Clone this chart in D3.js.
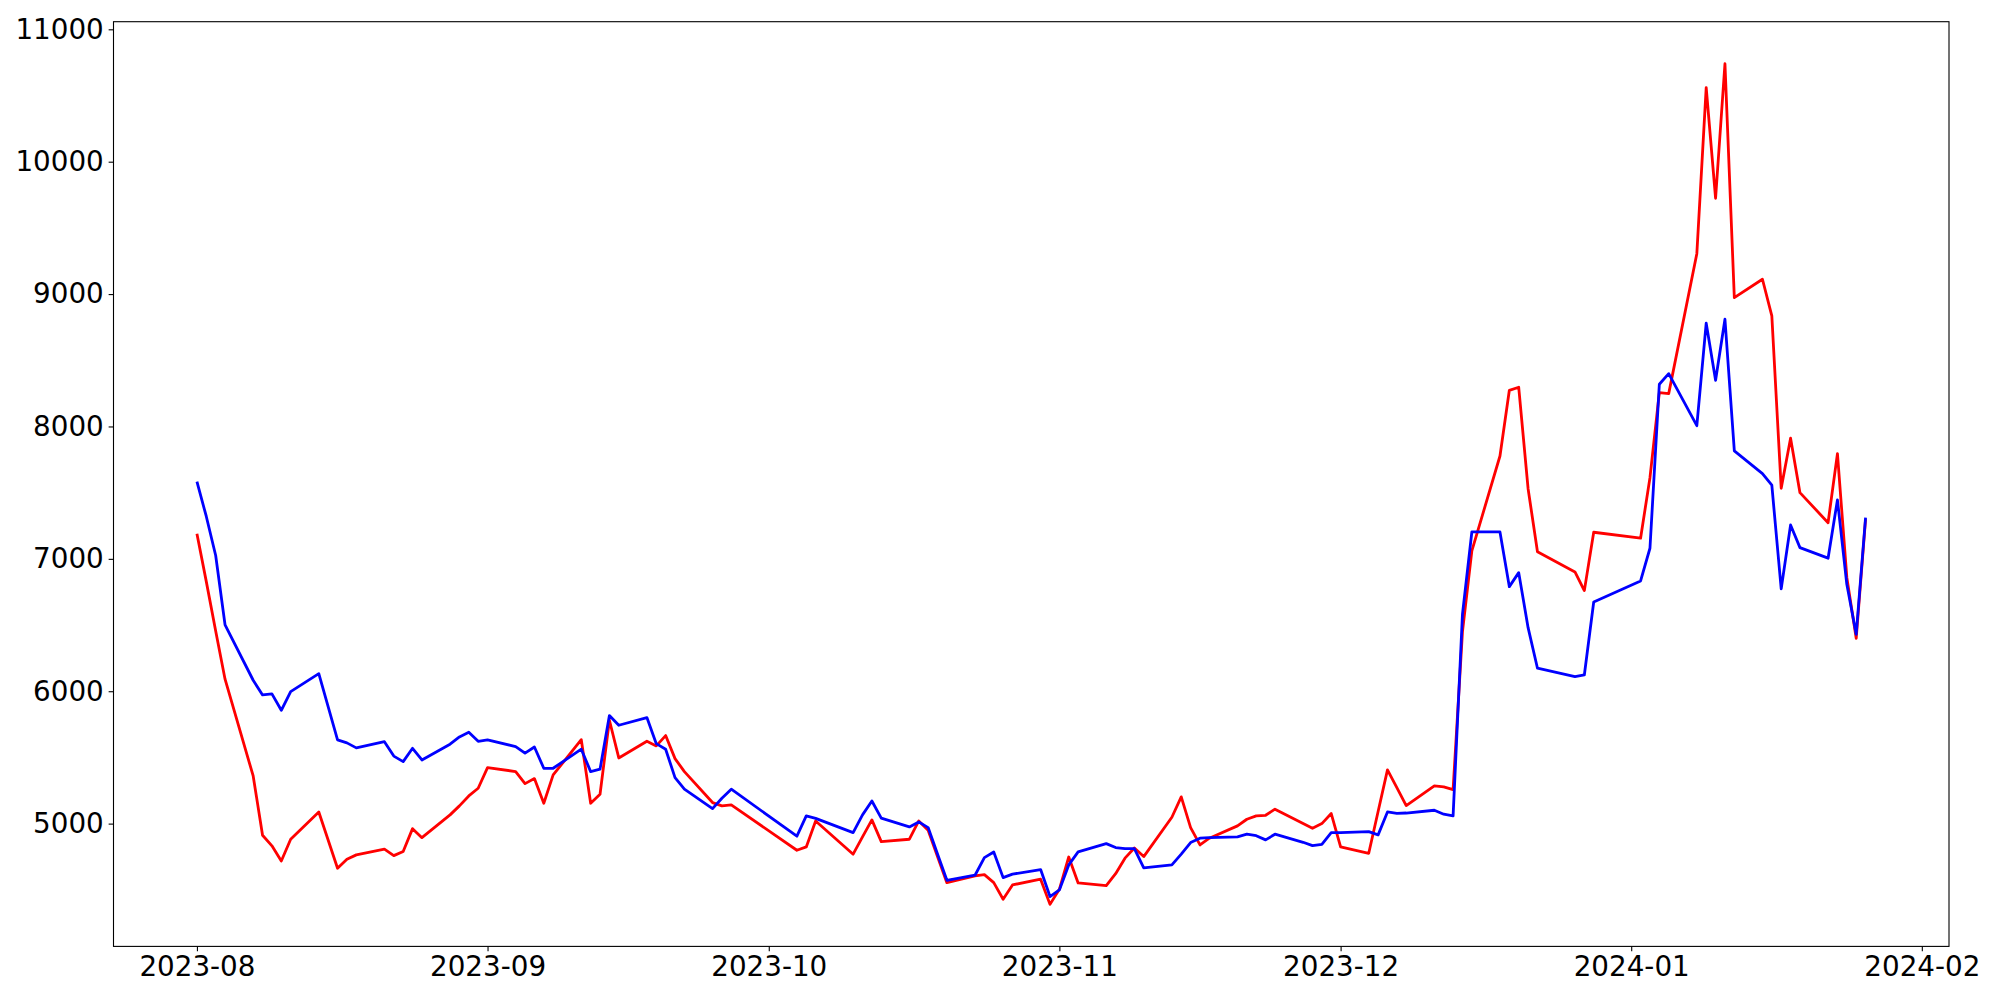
<!DOCTYPE html>
<html>
<head>
<meta charset="utf-8">
<script src="https://cdn.jsdelivr.net/npm/d3@7"></script>
<style>
  body { margin: 0; background: #fff; }
  svg { display: block; }
  .tick text { font-family: "DejaVu Sans", sans-serif; font-size: 27.78px; fill: #000; }
</style>
</head>
<body>
<svg id="chart" width="2000" height="1000"></svg>
<script>
const dates = [
  "2023-08-01","2023-08-02","2023-08-03","2023-08-04","2023-08-07","2023-08-08","2023-08-09","2023-08-10","2023-08-11","2023-08-14","2023-08-16","2023-08-17","2023-08-18","2023-08-21","2023-08-22","2023-08-23","2023-08-24","2023-08-25","2023-08-28","2023-08-29","2023-08-30","2023-08-31",
  "2023-09-01","2023-09-04","2023-09-05","2023-09-06","2023-09-07","2023-09-08","2023-09-11","2023-09-12","2023-09-13","2023-09-14","2023-09-15","2023-09-18","2023-09-19","2023-09-20","2023-09-21","2023-09-22","2023-09-25","2023-09-26","2023-09-27",
  "2023-10-04","2023-10-05","2023-10-06","2023-10-10","2023-10-11","2023-10-12","2023-10-13","2023-10-16","2023-10-17","2023-10-18","2023-10-19","2023-10-20","2023-10-23","2023-10-24","2023-10-25","2023-10-26","2023-10-27","2023-10-30","2023-10-31",
  "2023-11-01","2023-11-02","2023-11-03","2023-11-06","2023-11-07","2023-11-08","2023-11-09","2023-11-10","2023-11-13","2023-11-14","2023-11-15","2023-11-16","2023-11-17","2023-11-20","2023-11-21","2023-11-22","2023-11-23","2023-11-24","2023-11-27","2023-11-28","2023-11-29","2023-11-30",
  "2023-12-01","2023-12-04","2023-12-05","2023-12-06","2023-12-07","2023-12-08","2023-12-11","2023-12-12","2023-12-13","2023-12-14","2023-12-15","2023-12-18","2023-12-19","2023-12-20","2023-12-21","2023-12-22","2023-12-26","2023-12-27","2023-12-28",
  "2024-01-02","2024-01-03","2024-01-04","2024-01-05","2024-01-08","2024-01-09","2024-01-10","2024-01-11","2024-01-12","2024-01-15","2024-01-16","2024-01-17","2024-01-18","2024-01-19","2024-01-22","2024-01-23","2024-01-24","2024-01-25","2024-01-26"
];

const redValues = [
  7190, 6828, 6455, 6091, 5360, 4912, 4832, 4718, 4882, 5088, 4663, 4731, 4764, 4807, 4758, 4789, 4962, 4894, 5066, 5134, 5209, 5267,
  5423, 5393, 5302, 5340, 5154, 5368, 5634, 5154, 5222, 5781, 5496, 5622, 5587, 5665, 5491, 5393, 5159, 5134, 5141,
  4799, 4824, 5020, 4769, 4900, 5028, 4864, 4882, 5020, 4950, 4751, 4554, 4605, 4615, 4554, 4429, 4537, 4580, 4390,
  4504, 4748, 4552, 4532, 4622, 4739, 4816, 4751, 5048, 5202, 4970, 4839, 4890, 4983, 5033, 5058, 5063, 5109, 5000, 4965, 5000, 5076,
  4824, 4776, 5091, 5406, 5272, 5136, 5285, 5277, 5257, 6450, 7060, 7777, 8273, 8296, 7530, 7054, 6901, 6760, 7201,
  7156, 7613, 8255, 8248, 9305, 10559, 9724, 10740, 8973, 9112, 8835, 7533, 7911, 7500, 7273, 7795, 6860, 6400, 7300
];

const blueValues = [
  7583, 7320, 7025, 6501, 6083, 5972, 5980, 5856, 5997, 6133, 5632, 5610, 5572, 5619, 5510, 5468, 5569, 5481, 5600, 5655, 5690, 5622,
  5632, 5582, 5532, 5579, 5418, 5418, 5562, 5393, 5411, 5816, 5743, 5801, 5604, 5562, 5347, 5260, 5113, 5192, 5260,
  4905, 5058, 5040, 4932, 5066, 5171, 5041, 4975, 5013, 4970, 4770, 4572, 4610, 4743, 4786, 4592, 4618, 4653, 4449,
  4499, 4688, 4786, 4849, 4819, 4811, 4811, 4665, 4688, 4769, 4857, 4890, 4894, 4900, 4920, 4909, 4877, 4920, 4859, 4834, 4844, 4932,
  4932, 4940, 4915, 5088, 5078, 5080, 5101, 5071, 5058, 6582, 7203, 7203, 6790, 6896, 6480, 6174, 6110, 6123, 6674,
  6833, 7080, 8319, 8399, 8006, 8780, 8349, 8810, 7815, 7644, 7556, 6773, 7256, 7085, 7005, 7445, 6808, 6430, 7311
];

const yTickValues = [5000, 6000, 7000, 8000, 9000, 10000, 11000];

(function () {
  const parse = d3.timeParse("%Y-%m-%d");
  const xs = dates.map(parse);
  const redSeries = xs.map((d, i) => ({ date: d, value: redValues[i] }));
  const blueSeries = xs.map((d, i) => ({ date: d, value: blueValues[i] }));

  const mLeft = 113.5, mRight = 1949, mTop = 21.7, mBottom = 946.4;
  const svg = d3.select("#chart");
  svg.append("rect").attr("width", 2000).attr("height", 1000).attr("fill", "#fff");

  // matplotlib-style 5% margins
  const xExt = d3.extent(xs);
  const xPad = (xExt[1] - xExt[0]) * 0.05;
  const x = d3.scaleTime()
    .domain([new Date(+xExt[0] - xPad), new Date(+xExt[1] + xPad)])
    .range([mLeft, mRight]);

  const allVals = redValues.concat(blueValues);
  const yMin = d3.min(allVals), yMax = d3.max(allVals);
  const yPad = (yMax - yMin) * 0.05;
  const y = d3.scaleLinear()
    .domain([yMin - yPad, yMax + yPad])
    .range([mBottom, mTop]);

  const line = d3.line().x(d => x(d.date)).y(d => y(d.value));

  const plot = svg.append("g");
  plot.append("path").datum(redSeries)
    .attr("fill", "none").attr("stroke", "#ff0000").attr("stroke-width", 2.8)
    .attr("stroke-linejoin", "round")
    .attr("d", line);
  plot.append("path").datum(blueSeries)
    .attr("fill", "none").attr("stroke", "#0000ff").attr("stroke-width", 2.8)
    .attr("stroke-linejoin", "round")
    .attr("d", line);

  const tickLen = 4.86, tickPad = 4.86;
  const xAxis = d3.axisBottom(x)
    .ticks(d3.timeMonth.every(1))
    .tickFormat(d3.timeFormat("%Y-%m"))
    .tickSize(tickLen).tickPadding(tickPad).tickSizeOuter(0);
  const gx = svg.append("g").attr("transform", `translate(0,${mBottom})`).call(xAxis);
  gx.select(".domain").remove();
  gx.selectAll(".tick line").attr("stroke", "#000").attr("stroke-width", 1.1);

  const yAxis = d3.axisLeft(y)
    .tickValues(yTickValues)
    .tickFormat(d3.format("d"))
    .tickSize(tickLen).tickPadding(tickPad).tickSizeOuter(0);
  const gy = svg.append("g").attr("transform", `translate(${mLeft},0)`).call(yAxis);
  gy.select(".domain").remove();
  gy.selectAll(".tick line").attr("stroke", "#000").attr("stroke-width", 1.1);

  svg.append("rect")
    .attr("x", mLeft).attr("y", mTop)
    .attr("width", mRight - mLeft).attr("height", mBottom - mTop)
    .attr("fill", "none").attr("stroke", "#000").attr("stroke-width", 1.1);
})();
</script>
</body>
</html>
